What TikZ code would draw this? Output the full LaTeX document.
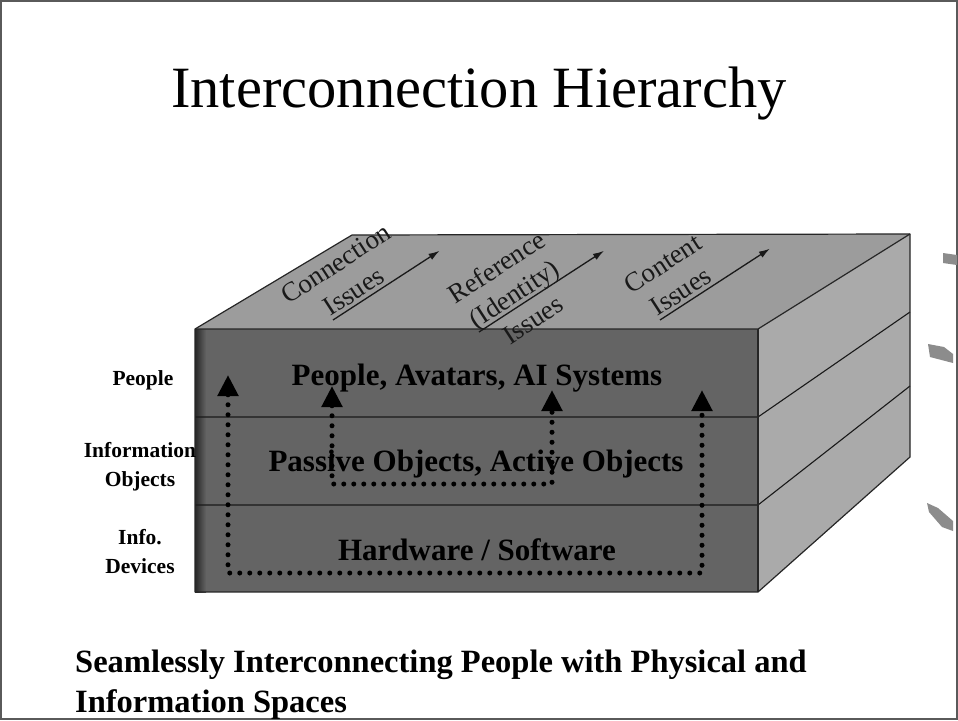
\documentclass[tikz,border=0pt]{standalone}
\usepackage{fontspec}
\setmainfont{Liberation Serif}
\usetikzlibrary{arrows.meta}
\definecolor{frontc}{RGB}{100,100,100}
\definecolor{topc}{RGB}{156,156,156}
\definecolor{sidec}{RGB}{170,170,170}
\definecolor{inkc}{RGB}{25,25,25}
\definecolor{framec}{RGB}{90,90,90}
\definecolor{blobc}{RGB}{140,140,140}
\begin{document}
\begin{tikzpicture}[x=1pt,y=-1pt,
  edge/.style={draw=black!85, line width=1.2pt, line join=round},
  divline/.style={draw=black!90, line width=1.1pt},
  dotpath/.style={draw=black, line width=5pt, line cap=round, line join=round,
     dash pattern=on 0pt off 10pt},
  flowtips/.style={{Triangle[width=20pt,length=21pt]}-{Triangle[width=20pt,length=21pt]}},
  toparrow/.style={draw=inkc, line width=1.3pt, -{Latex[length=11pt,width=7pt]}},
  toplabel/.style={font=\fontsize{27}{30}\selectfont, text=inkc, inner sep=0pt, anchor=base, transform shape},
  facelabel/.style={font=\bfseries\fontsize{31}{35}\selectfont, text=black, anchor=base, inner sep=0pt},
  sidelabel/.style={font=\bfseries\fontsize{21.5}{24}\selectfont, text=black, anchor=base, inner sep=0pt},
  bottomlabel/.style={font=\bfseries\fontsize{32.5}{40}\selectfont, text=black, anchor=base west, inner sep=0pt},
]
\useasboundingbox (0,0) rectangle (958,720);
\fill[white] (0,0) rectangle (958,720);
\draw[framec, line width=1.4pt] (1,1) rectangle (957,719);

% title
\node[font=\fontsize{58.5}{62}\selectfont, anchor=base, inner sep=0pt] (title) at (479,107) {Interconnection Hierarchy};

% box corners
\coordinate (fa) at (195,329);  % front top left
\coordinate (fb) at (758,329);  % front top right
\coordinate (fc) at (758,592);  % front bottom right
\coordinate (fd) at (195,592);  % front bottom left
\coordinate (ta) at (352,235);  % back top left
\coordinate (tb) at (910,234);  % back top right
\coordinate (tc) at (910,457);  % back bottom right

% faces
\fill[topc] (fa) -- (ta) -- (tb) -- (fb) -- cycle;
\fill[sidec] (fb) -- (tb) -- (tc) -- (fc) -- cycle;
\fill[frontc] (fa) rectangle (fc);
\shade[left color=black!85, right color=frontc] (195,329) rectangle (206,592);

% layer dividers
\draw[divline] (195,417) -- (758,417) -- (910,312);
\draw[divline] (195,505) -- (758,505) -- (910,386);

% outlines
\draw[edge] (fd) -- (fa) -- (ta) -- (tb) -- (tc) -- (fc) -- cycle;
\draw[edge] (fa) -- (fb) -- (tb);
\draw[edge] (fb) -- (fc);

% top face labels
\begin{scope}[shift={(333,320)}, rotate=33]
  \coordinate (cs) at (0,0);
  \coordinate (ce) at (127,0);
  \draw[toparrow] (cs) -- (ce);
  \node[toplabel] (conn1) at (33,-37) {Connection};
  \node[toplabel] (conn2) at (33,-4) {Issues};
\end{scope}
\begin{scope}[shift={(479,332)}, rotate=33]
  \coordinate (rs) at (0,0);
  \coordinate (re) at (149,0);
  \draw[toparrow] (rs) -- (re);
  \node[toplabel] (ref1) at (50,-36) {Reference};
  \node[toplabel] (ref2) at (50,-4) {(Identity)};
  \node[toplabel] (ref3) at (52,28) {Issues};
\end{scope}
\begin{scope}[shift={(660,320)}, rotate=33]
  \coordinate (ks) at (0,0);
  \coordinate (ke) at (131,0);
  \draw[toparrow] (ks) -- (ke);
  \node[toplabel] (cont1) at (33,-37) {Content};
  \node[toplabel] (cont2) at (33,-4) {Issues};
\end{scope}

% front face labels
\node[facelabel] (lay1) at (477,385) {People, Avatars, AI Systems};
\node[facelabel] (lay2) at (476,471) {Passive Objects, Active Objects};
\node[facelabel] (lay3) at (477,560) {Hardware / Software};

% dotted flows
\coordinate (o1) at (228,375);
\coordinate (o2) at (228,573);
\coordinate (o3) at (702,573);
\coordinate (o4) at (702,390);
\draw[dotpath, flowtips] (o1) -- (o2) -- (o3) -- (o4);
\coordinate (i1) at (332,386);
\coordinate (i2) at (332,484);
\coordinate (i3) at (552,484);
\coordinate (i4) at (552,390);
\draw[dotpath, flowtips] (i1) -- (i2) -- (i3) -- (i4);

% side labels
\node[sidelabel] (sl1) at (143,385) {People};
\node[sidelabel] (sl2) at (140,457) {Information};
\node[sidelabel] (sl3) at (140,486) {Objects};
\node[sidelabel] (sl4) at (140,544) {Info.};
\node[sidelabel] (sl5) at (140,573) {Devices};

% bottom caption
\node[bottomlabel] (cap1) at (75,672) {Seamlessly Interconnecting People with Physical and};
\node[bottomlabel] (cap2) at (75,712) {Information Spaces};

% marks at the right edge
\fill[blobc] (943,253) -- (957,255) -- (957,265) -- (943,263) -- cycle;
\fill[blobc] (928,344) -- (944,347) -- (953,354) -- (953,363) -- (930,357) -- cycle;
\fill[blobc] (927,503) -- (938,508) -- (953,521) -- (953,531) -- (942,527) -- (929,512) -- cycle;
\end{tikzpicture}
\end{document}
